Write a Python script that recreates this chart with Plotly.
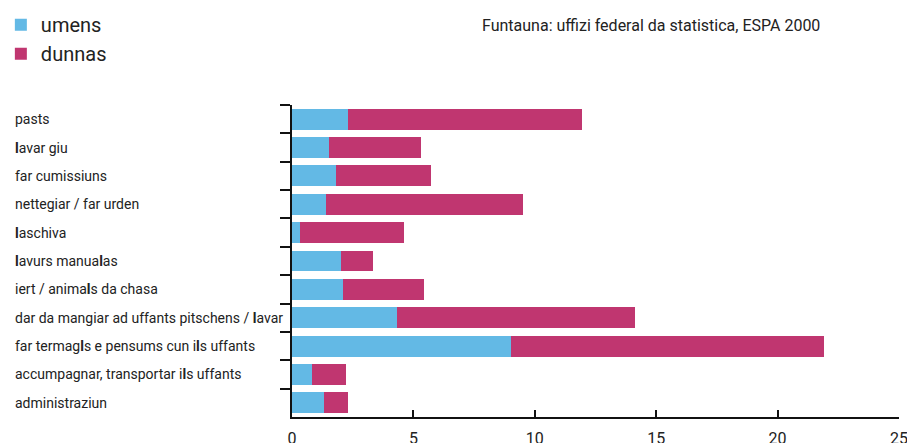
import plotly.graph_objects as go

categories = [
    "pasts",
    "lavar giu",
    "far cumissiuns",
    "nettegiar / far urden",
    "laschiva",
    "lavurs manualas",
    "iert / animals da chasa",
    "dar da mangiar ad uffants pitschens / lavar",
    "far termagls e pensums cun ils uffants",
    "accumpagnar, transportar ils uffants",
    "administraziun",
]
umens = [2.31, 1.52, 1.81, 1.40, 0.33, 2.02, 2.10, 4.33, 9.02, 0.82, 1.32]
totals = [11.95, 5.32, 5.73, 9.52, 4.61, 3.34, 5.44, 14.13, 21.92, 2.22, 2.31]
dunnas = [round(t - m, 2) for t, m in zip(totals, umens)]
x_ticks = [0, 5, 10, 15, 20, 25]
source = "Funtauna: uffizi federal da statistica, ESPA 2000"

FONT = "Roboto"
TXT = "#222222"
BLUE = "#63B9E5"
MAG = "#C03670"

fig = go.Figure()
fig.add_trace(go.Bar(y=categories, x=umens, orientation="h", name="umens",
                     marker=dict(color=BLUE, line=dict(width=0))))
fig.add_trace(go.Bar(y=categories, x=dunnas, orientation="h", name="dunnas",
                     marker=dict(color=MAG, line=dict(width=0))))

# page body has an 8px default margin: figure coordinates = screen - 8
OFF = 8
W, H = 915 - OFF, 443 - OFF
L = 292 - OFF
T = 105 - OFF
R = W - (898.7 - OFF)
B = H - (417.5 - OFF)
pw = W - L - R
ph = H - T - B

annotations = []
for c in categories:
    annotations.append(dict(
        x=(13 - OFF - L) / pw, xref="paper", y=c, yref="y",
        text=c.replace("l", "<b>l</b>"), showarrow=False,
        xanchor="left", yanchor="middle", font=dict(family=FONT, size=14, color=TXT)))
annotations.append(dict(
    x=(480 - OFF - L) / pw, xref="paper",
    y=((H - B) - (25 - OFF)) / ph, yref="paper",
    text=source, showarrow=False, xanchor="left", yanchor="middle",
    font=dict(family=FONT, size=16, color=TXT)))

fig.update_layout(
    width=W, height=H,
    margin=dict(l=L, r=R, t=T, b=B, pad=0, autoexpand=False),
    barmode="stack",
    bargap=0.26,
    paper_bgcolor="white",
    plot_bgcolor="white",
    font=dict(family=FONT, color=TXT),
    legend=dict(
        x=(-7 - L) / pw, y=1 + (T + 3) / ph, xref="paper", yref="paper",
        xanchor="left", yanchor="top",
        font=dict(family=FONT, size=20, color=TXT), traceorder="normal",
        bgcolor="rgba(0,0,0,0)", itemclick=False,
    ),
    annotations=annotations,
    xaxis=dict(
        range=[0, 25], tickvals=x_ticks, ticktext=[str(v) for v in x_ticks],
        ticks="inside", ticklen=7, tickwidth=1.5, tickcolor="#111",
        showline=True, linecolor="#111", linewidth=2,
        showgrid=False, zeroline=False,
        tickfont=dict(family=FONT, size=16, color=TXT),
        ticklabelstandoff=6,
        fixedrange=True,
    ),
    yaxis=dict(
        autorange="reversed", type="category",
        ticks="outside", tickson="boundaries", ticklen=10, tickwidth=2, tickcolor="#111",
        showline=True, linecolor="#111", linewidth=2,
        showticklabels=False, showgrid=False, zeroline=False,
        fixedrange=True,
    ),
)

fig.write_html("out.html")
